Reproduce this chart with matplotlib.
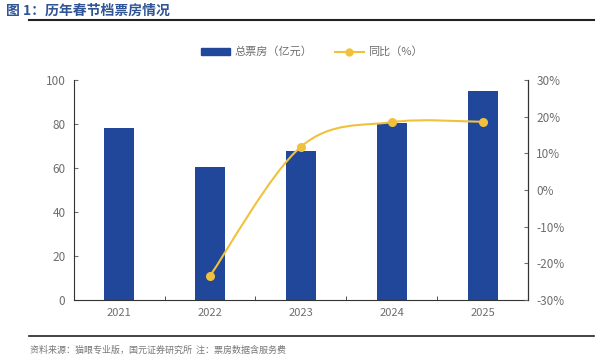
import matplotlib
matplotlib.use('Agg')
import matplotlib.pyplot as plt
from matplotlib.path import Path
from matplotlib.patches import PathPatch
from matplotlib.lines import Line2D
from matplotlib.patches import Patch
import numpy as np

plt.rcParams['font.family'] = ['Noto Sans CJK SC', 'DejaVu Sans']

years = ['2021', '2022', '2023', '2024', '2025']
box_office = [78.2, 60.4, 67.6, 80.3, 95.1]   # 亿元
yoy = [None, -23.4, 11.8, 18.5, 18.6]         # %

bar_color = '#21479a'
line_color = '#f0c23c'
tick_color = '#6e6e6e'

fig = plt.figure(figsize=(6, 3.63), dpi=100)
ax = fig.add_axes([0.123, 0.1736, 0.757, 0.606])
ax2 = ax.twinx()

x = np.arange(len(years))
ax.bar(x, box_office, width=0.33, color=bar_color, zorder=2)
ax.set_xlim(-0.5, len(years) - 0.5)
ax.set_ylim(0, 100)
ax.set_yticks(range(0, 101, 20))
ax.set_xticks(x)
ax.set_xticklabels(years)
ax.set_xticks(np.arange(-0.5, len(years), 1), minor=True)
ax.tick_params(axis='x', which='major', length=0, colors=tick_color, labelsize=8, pad=6)
ax.tick_params(axis='x', which='minor', direction='in', length=3, color='#333333')
ax.tick_params(axis='y', direction='in', length=3, colors=tick_color, labelsize=8.5, pad=6)
ax.spines['top'].set_visible(False)
for s in ['left', 'bottom']:
    ax.spines[s].set_color('#333333')
    ax.spines[s].set_linewidth(0.8)

# smoothed yoy line (cubic bezier through the data points)
px = [i for i, v in enumerate(yoy) if v is not None]
py = [v for v in yoy if v is not None]
verts = [(px[0], py[0])]
codes = [Path.MOVETO]
n = len(px)
for i in range(n - 1):
    p0 = (px[max(i - 1, 0)], py[max(i - 1, 0)])
    p1 = (px[i], py[i])
    p2 = (px[i + 1], py[i + 1])
    p3 = (px[min(i + 2, n - 1)], py[min(i + 2, n - 1)])
    c1 = (p1[0] + (p2[0] - p0[0]) / 6, p1[1] + (p2[1] - p0[1]) / 6)
    c2 = (p2[0] - (p3[0] - p1[0]) / 6, p2[1] - (p3[1] - p1[1]) / 6)
    verts += [c1, c2, p2]
    codes += [Path.CURVE4] * 3
ax2.add_patch(PathPatch(Path(verts, codes), facecolor='none', edgecolor=line_color, lw=1.5, zorder=3))
ax2.plot(px, py, 'o', color=line_color, ms=5.5, zorder=4)

ax2.set_ylim(-30, 30)
ax2.set_yticks(range(-30, 31, 10))
ax2.set_yticklabels([f'{v}%' for v in range(-30, 31, 10)])
ax2.tick_params(axis='y', direction='in', length=3, colors=tick_color, labelsize=8.5, pad=6)
ax2.spines['top'].set_visible(False)
ax2.spines['right'].set_color('#333333')
ax2.spines['right'].set_linewidth(0.8)
ax2.spines['left'].set_visible(False)
ax2.spines['bottom'].set_visible(False)

handles = [Patch(color=bar_color), Line2D([], [], color=line_color, lw=1.5, marker='o', ms=5)]
fig.legend(handles, ['总票房（亿元）', '同比（%）'], loc='center', bbox_to_anchor=(0.52, 0.857),
           ncol=2, frameon=False, fontsize=8, labelcolor=tick_color, handlelength=2.6,
           handleheight=0.6, columnspacing=2.0, handletextpad=0.4)

fig.text(0.01, 0.97, '图 1：历年春节档票房情况', fontsize=10, fontweight='bold',
         color='#2f5597', va='center')
fig.add_artist(Line2D([0.048, 0.99], [0.945, 0.945], color='#222222', lw=1.5))
fig.add_artist(Line2D([0.048, 0.99], [0.074, 0.074], color='#222222', lw=1.2))
fig.text(0.05, 0.035, '资料来源：猫眼专业版，国元证券研究所  注：票房数据含服务费', fontsize=6.5,
         color='#777777', va='center')

fig.savefig('out.png', dpi=100)
